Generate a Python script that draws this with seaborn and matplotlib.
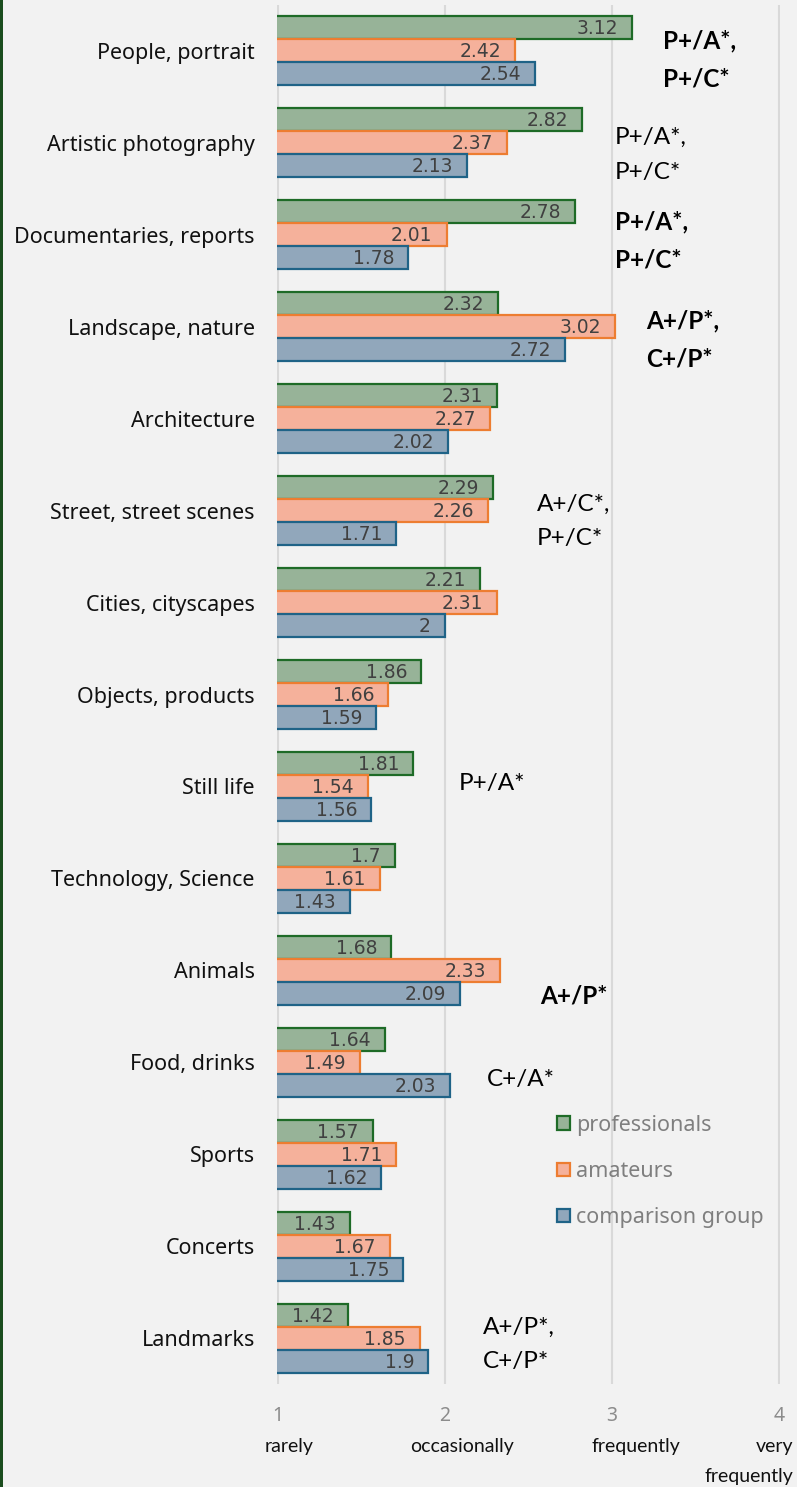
import numpy as np
import pandas as pd
import matplotlib
matplotlib.use("Agg")
import matplotlib.pyplot as plt
from matplotlib.patches import Rectangle, Patch
import seaborn as sns

# ---------------- data ----------------
categories = ["People, portrait", "Artistic photography", "Documentaries, reports",
              "Landscape, nature", "Architecture", "Street, street scenes",
              "Cities, cityscapes", "Objects, products", "Still life",
              "Technology, Science", "Animals", "Food, drinks", "Sports",
              "Concerts", "Landmarks"]
professionals = [3.12, 2.82, 2.78, 2.32, 2.31, 2.29, 2.21, 1.86, 1.81, 1.70, 1.68, 1.64, 1.57, 1.43, 1.42]
amateurs      = [2.42, 2.37, 2.01, 3.02, 2.27, 2.26, 2.31, 1.66, 1.54, 1.61, 2.33, 1.49, 1.71, 1.67, 1.85]
comparison    = [2.54, 2.13, 1.78, 2.72, 2.02, 1.71, 2.00, 1.59, 1.56, 1.43, 2.09, 2.03, 1.62, 1.75, 1.90]
groups = ["professionals", "amateurs", "comparison group"]
tick_values = [1, 2, 3, 4]
scale_words = ["rarely", "occasionally", "frequently", "very\nfrequently"]

sig_category = ["People, portrait", "Artistic photography", "Documentaries, reports",
                "Landscape, nature", "Street, street scenes", "Still life",
                "Animals", "Food, drinks", "Landmarks"]
sig_text = ["P+/A*,\nP+/C*", "P+/A*,\nP+/C*", "P+/A*,\nP+/C*", "A+/P*,\nC+/P*",
            "A+/C*,\nP+/C*", "P+/A*", "A+/P*", "C+/A*", "A+/P*,\nC+/P*"]
sig_bold = [True, False, True, True, False, False, True, False, False]

# ---------------- layout / style ----------------
sig_pos = [(3.302, 0.10), (3.016, 0.13), (3.016, 0.07), (3.206, 0.14), (2.55, 0.12),
           (2.085, -0.03), (2.568, 0.28), (2.252, 0.19), (2.228, 0.07)]
word_offsets = [(11, 'center'), (17, 'center'), (24, 'center'), (14, 'right')]

fills = ["#97b398", "#f5b19b", "#91a7bb"]
edges = ["#1e6b27", "#ed7d31", "#1f6387"]
bg = "#f2f2f2"

sns.set_style("white")
plt.rcParams["font.family"] = ["Noto Sans", "DejaVu Sans"]

df = pd.DataFrame({
    "category": categories * 3,
    "value": professionals + amateurs + comparison,
    "group": [g for g in groups for _ in categories],
})

fig = plt.figure(figsize=(7.97, 14.87), dpi=100, facecolor=bg)
ax = fig.add_axes([277 / 797, 1 - 1384 / 1487, (780 - 277) / 797, (1384 - 5) / 1487])
ax.set_facecolor(bg)

sns.barplot(data=df, y="category", x="value", hue="group", orient="h",
            order=categories, hue_order=groups, palette=fills, saturation=1,
            width=0.75, linewidth=1.6, ax=ax, legend=False, zorder=3)

series = [professionals, amateurs, comparison]
for cont, ec, vals in zip(ax.containers, edges, series):
    for bar, v in zip(cont, vals):
        bar.set_edgecolor(ec)
        bar.set_linewidth(1.6)
        ax.annotate(f"{v:g}", xy=(bar.get_x() + bar.get_width(), bar.get_y() + bar.get_height() / 2),
                    xytext=(-14, -1), textcoords="offset pixels", ha="right", va="center",
                    fontsize=13.5, color="#404040", family=["DejaVu Sans"], zorder=5)

ax.set_xlim(0.996, 4.004)
ax.set_xticks(tick_values)
ax.set_xticklabels([str(t) for t in tick_values], color="#8c8c8c", fontsize=14)
ax.grid(axis="x", color="#d9d9d9", linewidth=1.5, zorder=0)
ax.grid(axis="y", visible=False)
ax.set_axisbelow(True)
for s in ax.spines.values():
    s.set_visible(False)
ax.tick_params(axis="x", length=0, pad=16)
ax.tick_params(axis="y", length=0, pad=16, labelsize=15.5, labelcolor="#111111")
ax.set_xlabel("")
ax.set_ylabel("")

# scale words under ticks
for t, w, (dx, ha) in zip(tick_values, scale_words, word_offsets):
    ax.annotate(w, xy=(t, 0), xycoords=("data", "axes fraction"),
                xytext=(dx, -54), textcoords="offset pixels", ha=ha, va="top",
                fontsize=14, color="#111111", family=["Lato", "DejaVu Sans"],
                linespacing=1.95, annotation_clip=False)

# significance annotations
for cat, txt, b, (x, dy) in zip(sig_category, sig_text, sig_bold, sig_pos):
    yi = categories.index(cat)
    ax.text(x, yi + dy, txt, ha="left", va="center", fontsize=17.5,
            fontweight="bold" if b else "normal", family=["Lato", "DejaVu Sans"],
            color="#000000", linespacing=1.8, zorder=6)

# legend
handles = [Patch(facecolor=f, edgecolor=e, linewidth=1.6) for f, e in zip(fills, edges)]
leg = fig.legend(handles, groups, loc="upper left", bbox_to_anchor=(546 / 797, 1 - 1104 / 1487),
                 frameon=False, fontsize=15.5, handlelength=0.6, handleheight=0.6,
                 handletextpad=0.3, labelspacing=1.17, borderpad=0)
for t in leg.get_texts():
    t.set_color("#7f7f7f")

# left accent strip
fig.patches.append(Rectangle((0, 0), 3 / 797, 1, transform=fig.transFigure,
                             facecolor="#1b4d1e", edgecolor="none"))

fig.savefig("out.png", dpi=100, facecolor=bg)
